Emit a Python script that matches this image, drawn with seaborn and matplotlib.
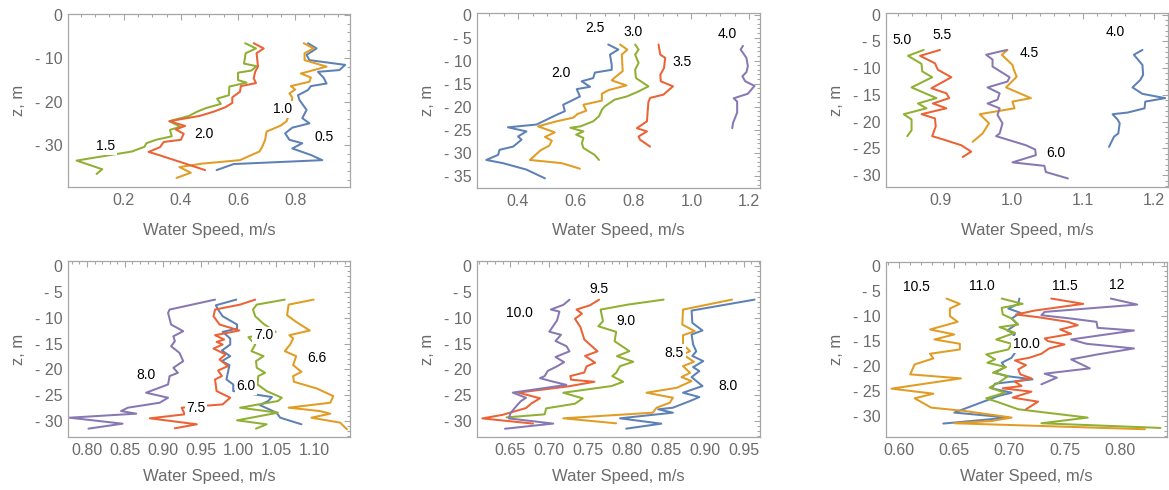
import matplotlib
matplotlib.use("Agg")
import matplotlib.pyplot as plt
from matplotlib.ticker import MultipleLocator, FixedLocator, FixedFormatter
import seaborn as sns

# ---------------- data: (speed m/s, depth z m) ----------------
# Panel 1
p1_blue_z = [-6.5,-7.7,-9.2,-10.4,-11.5,-12.7,-13.1,-14.5,-15.8,-16.4,-17.3,-18.5,-19.6,-21.9,-23.8,-25.0,-26.0,-27.3,-28.8,-29.6,-30.8,-32.3,-33.5,-34.4,-35.8]
p1_blue_s = [0.845,0.875,0.84,0.85,0.975,0.955,0.88,0.90,0.91,0.855,0.845,0.81,0.815,0.84,0.825,0.85,0.79,0.765,0.78,0.825,0.79,0.855,0.895,0.585,0.525]
p1_orange_z = [-6.5,-7.7,-8.8,-10.4,-11.9,-13.5,-14.4,-15.4,-16.4,-17.2,-18.1,-19.0,-22.0,-24.5,-25.5,-26.9,-28.8,-30.4,-31.5,-33.5,-34.3,-35.1,-36.4,-37.6]
p1_orange_s = [0.83,0.865,0.833,0.833,0.91,0.82,0.855,0.85,0.785,0.80,0.78,0.79,0.785,0.77,0.75,0.70,0.695,0.685,0.675,0.607,0.475,0.395,0.435,0.385]
p1_green_z = [-6.5,-7.7,-8.8,-11.2,-11.8,-12.8,-13.3,-15.0,-15.6,-16.5,-18.5,-19.3,-20.5,-21.5,-22.3,-23.3,-24.5,-25.8,-26.5,-28.0,-28.8,-29.6,-30.4,-31.5,-33.6,-35.6,-36.7]
p1_green_s = [0.625,0.663,0.627,0.621,0.665,0.647,0.600,0.600,0.630,0.570,0.568,0.527,0.540,0.487,0.457,0.428,0.360,0.398,0.362,0.368,0.313,0.279,0.273,0.229,0.035,0.125,0.105]
p1_red_z = [-6.5,-7.7,-8.8,-11.9,-13.1,-14.6,-15.7,-16.4,-17.7,-19.0,-20.3,-21.3,-22.3,-23.3,-24.5,-25.6,-26.4,-27.4,-28.8,-29.3,-30.5,-31.6,-32.4,-35.8]
p1_red_s = [0.655,0.69,0.665,0.67,0.66,0.655,0.663,0.61,0.607,0.58,0.58,0.555,0.515,0.465,0.36,0.415,0.382,0.41,0.40,0.34,0.327,0.287,0.327,0.485]

# Panel 2
p2_blue_z = [-6.5,-7.6,-8.7,-10.9,-12.0,-12.6,-13.8,-14.5,-15.7,-16.2,-17.8,-18.9,-19.6,-21.0,-21.8,-23.2,-23.9,-24.5,-25.4,-26.5,-27.2,-28.7,-29.4,-30.5,-31.6,-32.3,-33.7,-35.6]
p2_blue_s = [0.712,0.747,0.718,0.724,0.724,0.666,0.660,0.620,0.649,0.603,0.614,0.579,0.556,0.562,0.533,0.487,0.464,0.365,0.429,0.400,0.412,0.383,0.336,0.331,0.290,0.348,0.429,0.493]
p2_orange_z = [-6.5,-7.6,-8.7,-12.3,-13.6,-14.3,-15.4,-16.4,-17.2,-18.7,-19.6,-20.9,-21.6,-22.4,-23.2,-24.3,-25.6,-26.6,-27.4,-28.5,-29.5,-31.6,-32.3,-33.5]
p2_orange_s = [0.753,0.778,0.759,0.762,0.736,0.724,0.775,0.714,0.690,0.690,0.626,0.636,0.606,0.591,0.533,0.469,0.527,0.493,0.517,0.508,0.478,0.441,0.551,0.614]
p2_green_z = [-6.5,-7.6,-8.7,-10.5,-12.0,-13.8,-15.6,-16.7,-17.8,-18.5,-20.0,-20.7,-22.1,-23.2,-24.3,-24.6,-25.4,-26.1,-26.8,-28.0,-29.0,-30.5,-31.6]
p2_green_s = [0.805,0.817,0.805,0.817,0.805,0.808,0.851,0.817,0.776,0.734,0.699,0.690,0.680,0.660,0.616,0.581,0.626,0.601,0.626,0.621,0.626,0.665,0.680]
p2_red_z = [-6.5,-8.7,-9.4,-11.6,-13.1,-14.5,-15.6,-17.4,-18.1,-19.0,-21.4,-23.2,-24.7,-25.4,-26.5,-27.2,-28.7]
p2_red_s = [0.886,0.892,0.909,0.905,0.892,0.894,0.936,0.903,0.857,0.851,0.848,0.846,0.811,0.846,0.817,0.822,0.857]
p2_purple_z = [-6.8,-7.6,-9.4,-11.2,-12.5,-13.4,-14.5,-15.5,-17.2,-18.2,-18.9,-21.3,-23.5,-24.7]
p2_purple_s = [1.178,1.170,1.190,1.195,1.190,1.176,1.186,1.218,1.195,1.146,1.158,1.158,1.144,1.141]

# Panel 3
p3_blue_z = [-6.6,-7.5,-9.4,-11.25,-12.2,-13.6,-14.8,-15.6,-16.25,-17.5,-18.3,-18.6,-19.6,-20.3,-22.2,-22.8,-24.7]
p3_blue_s = [1.184,1.172,1.184,1.185,1.181,1.170,1.184,1.216,1.188,1.187,1.163,1.142,1.149,1.152,1.150,1.144,1.137]
p3_orange_z = [-6.6,-7.5,-9.4,-10.3,-11.6,-13.6,-15.6,-16.25,-17.5,-18.6,-20.3,-22.2,-23.75]
p3_orange_s = [0.994,0.986,1.001,1.003,1.007,0.992,1.027,1.001,1.004,0.955,0.968,0.959,0.945]
p3_green_z = [-6.6,-7.7,-9.2,-10.6,-11.7,-13.6,-15.6,-16.6,-17.5,-18.6,-19.6,-21.6,-22.7]
p3_green_s = [0.876,0.854,0.873,0.874,0.888,0.859,0.894,0.868,0.880,0.848,0.859,0.859,0.853]
p3_red_z = [-6.6,-7.7,-9.1,-10.3,-11.7,-13.75,-14.7,-15.6,-16.6,-17.5,-18.6,-19.4,-20.9,-22.7,-23.3,-24.4,-25.6,-26.6]
p3_red_s = [0.899,0.871,0.892,0.896,0.915,0.887,0.908,0.912,0.889,0.908,0.873,0.892,0.893,0.888,0.903,0.929,0.943,0.931]
p3_purple_z = [-6.6,-7.5,-8.4,-9.7,-11.7,-12.5,-13.6,-14.7,-15.9,-16.6,-17.5,-18.75,-20.3,-22.2,-22.7,-24.4,-25.2,-26.25,-27.6,-28.25,-29.4,-30.6]
p3_purple_s = [0.993,0.964,0.973,0.973,0.997,0.994,0.966,0.983,0.980,0.966,0.983,0.980,0.987,0.983,0.978,1.020,1.033,1.034,1.001,1.046,1.048,1.079]

# Panel 4
p4_blue_z = [-6.48,-7.58,-8.41,-9.71,-11.31,-12.09,-12.73,-14.02,-15.18,-16.34,-17.44,-18.40,-19.18,-21.95,-22.92,-24.20,-25.36,-26.13,-26.91,-28.39,-29.36,-30.64]
p4_blue_s = [0.997,0.970,0.973,0.979,0.998,0.998,0.979,0.989,0.989,0.978,0.989,0.978,0.988,0.984,0.993,0.993,1.044,1.039,1.028,1.050,1.055,1.083]
p4_orange_z = [-6.48,-7.45,-9.51,-10.80,-12.47,-13.38,-14.02,-15.18,-16.47,-17.44,-19.18,-20.47,-21.30,-22.40,-23.69,-25.17,-26.46,-27.42,-28.07,-28.58,-29.36,-30.32,-31.61]
p4_orange_s = [1.099,1.066,1.064,1.076,1.094,1.067,1.072,1.068,1.061,1.076,1.072,1.083,1.072,1.073,1.103,1.125,1.121,1.066,1.107,1.121,1.096,1.134,1.143]
p4_green_z = [-6.48,-7.45,-8.41,-9.71,-11.18,-12.73,-13.76,-15.18,-16.47,-17.44,-18.40,-19.69,-20.66,-21.30,-22.92,-24.20,-25.49,-26.13,-27.42,-28.39,-29.87,-30.64,-31.48]
p4_green_s = [1.061,1.024,1.019,1.022,1.033,1.049,1.013,1.022,1.017,1.033,1.023,1.024,1.035,1.026,1.025,1.037,1.057,1.052,1.002,1.052,0.998,1.037,1.023]
p4_red_z = [-6.48,-7.45,-8.41,-9.71,-11.31,-12.47,-13.38,-14.21,-14.67,-15.18,-15.96,-17.11,-18.08,-19.37,-20.21,-21.30,-21.95,-24.20,-25.49,-26.78,-27.42,-28.71,-29.48,-30.64,-31.41]
p4_red_s = [1.022,1.002,0.969,0.967,0.975,1.001,0.969,0.981,0.971,0.979,0.967,0.983,0.975,0.986,0.973,0.978,0.969,0.971,0.989,0.979,0.925,0.929,0.883,0.945,0.916]
p4_purple_z = [-6.48,-8.41,-9.06,-11.31,-12.60,-13.58,-14.54,-15.51,-16.80,-18.40,-19.69,-20.66,-21.30,-22.92,-24.52,-25.49,-26.46,-27.42,-28.07,-28.58,-29.36,-30.52,-31.48]
p4_purple_s = [0.969,0.909,0.907,0.911,0.927,0.914,0.916,0.911,0.922,0.927,0.914,0.920,0.909,0.907,0.878,0.907,0.896,0.854,0.845,0.865,0.777,0.847,0.802]

# Panel 5
p5_blue_z = [-6.48,-8.61,-10.99,-12.47,-13.25,-15.18,-16.5,-17.4,-18.40,-19.56,-20.33,-21.49,-23.23,-24.52,-25.36,-26.13,-27.42,-27.74,-28.39,-29.48,-30.52,-31.48]
p5_blue_s = [0.964,0.883,0.884,0.897,0.883,0.885,0.889,0.884,0.898,0.885,0.893,0.883,0.897,0.872,0.893,0.881,0.859,0.840,0.859,0.791,0.844,0.799]
p5_orange_z = [-6.48,-8.41,-11.31,-12.60,-13.38,-15.18,-16.47,-17.11,-18.53,-19.37,-20.66,-21.49,-22.27,-23.56,-24.52,-25.49,-26.46,-27.42,-28.39,-29.48,-30.45]
p5_orange_s = [0.935,0.872,0.871,0.887,0.872,0.872,0.881,0.872,0.886,0.872,0.881,0.870,0.883,0.864,0.825,0.859,0.855,0.838,0.833,0.718,0.786]
p5_green_z = [-6.48,-7.45,-8.41,-10.67,-11.64,-12.73,-14.54,-16.47,-17.44,-18.53,-19.37,-20.66,-21.30,-22.40,-23.23,-24.52,-25.62,-26.65,-27.55,-28.71,-29.3]
p5_green_s = [0.847,0.801,0.766,0.769,0.763,0.786,0.784,0.803,0.787,0.808,0.791,0.786,0.781,0.795,0.780,0.718,0.743,0.733,0.696,0.694,0.645]
p5_red_z = [-6.5,-7.6,-8.4,-9.2,-10.2,-11.8,-14.2,-16.5,-17.4,-18.7,-19.4,-20.6,-21.3,-22.0,-22.4,-23.3,-24.5,-25.6,-26.6,-27.5,-28.8,-29.5,-30.5]
p5_red_s = [0.764,0.752,0.735,0.742,0.733,0.740,0.745,0.762,0.746,0.759,0.748,0.745,0.727,0.728,0.758,0.724,0.660,0.688,0.677,0.670,0.640,0.614,0.679]
p5_purple_z = [-6.5,-7.5,-8.4,-8.8,-10.5,-12.7,-13.3,-14.5,-15.5,-16.5,-17.6,-18.6,-19.4,-20.3,-21.3,-21.7,-22.3,-23.0,-24.5,-25.5,-26.2,-27.4,-28.5,-29.5,-30.5,-31.5]
p5_purple_s = [0.726,0.718,0.702,0.713,0.710,0.700,0.715,0.708,0.722,0.726,0.708,0.719,0.710,0.698,0.694,0.688,0.703,0.722,0.653,0.670,0.663,0.656,0.650,0.648,0.705,0.643]

# Panel 6
p6_blue_z = [-6.59,-7.65,-8.58,-9.44,-10.57,-11.63,-12.96,-13.63,-14.55,-15.48,-16.54,-17.41,-18.40,-19.39,-20.25,-21.38,-22.04,-22.70,-23.56,-24.49,-25.36,-26.02,-27.02,-29.33,-30.33,-31.52]
p6_blue_s = [0.709,0.708,0.699,0.710,0.702,0.707,0.698,0.705,0.702,0.709,0.703,0.705,0.702,0.693,0.696,0.687,0.697,0.721,0.687,0.684,0.702,0.690,0.678,0.650,0.699,0.640]
p6_orange_z = [-6.6,-7.65,-8.58,-10.11,-11.23,-12.76,-13.75,-14.75,-15.61,-16.74,-17.60,-18.53,-19.72,-21.71,-22.51,-24.56,-25.56,-26.48,-28.34,-29.0,-30.33,-31.0,-31.46,-32.65]
p6_orange_s = [0.643,0.655,0.646,0.646,0.653,0.628,0.650,0.632,0.655,0.655,0.628,0.631,0.614,0.610,0.656,0.593,0.631,0.614,0.629,0.659,0.702,0.684,0.650,0.823]
p6_green_z = [-6.59,-7.65,-8.44,-9.77,-10.57,-11.77,-12.29,-13.42,-14.75,-15.61,-16.74,-17.73,-18.72,-19.39,-20.25,-21.38,-22.04,-23.37,-24.36,-25.36,-26.48,-27.35,-28.67,-30.33,-31.46,-32.39]
p6_green_s = [0.693,0.712,0.693,0.694,0.702,0.708,0.691,0.705,0.688,0.702,0.699,0.679,0.687,0.680,0.697,0.685,0.699,0.690,0.682,0.696,0.679,0.691,0.708,0.771,0.729,0.837]
p6_red_z = [-6.59,-7.65,-8.98,-9.77,-10.30,-11.23,-11.90,-12.76,-13.63,-14.55,-15.08,-15.74,-16.54,-17.60,-18.40,-18.93,-19.86,-20.72,-21.71,-22.51,-23.17,-24.03,-24.49,-25.16,-26.35,-27.15,-28.68]
p6_red_s = [0.738,0.767,0.723,0.706,0.726,0.753,0.762,0.746,0.756,0.732,0.735,0.750,0.736,0.729,0.718,0.705,0.715,0.708,0.710,0.720,0.705,0.711,0.694,0.720,0.703,0.726,0.715]
p6_purple_z = [-6.59,-7.79,-9.25,-9.91,-10.58,-11.23,-12.43,-12.96,-14.75,-15.61,-16.54,-17.73,-18.72,-20.51,-21.57,-22.37,-23.70]
p6_purple_s = [0.792,0.816,0.732,0.729,0.756,0.779,0.780,0.813,0.756,0.770,0.813,0.780,0.756,0.773,0.732,0.743,0.729]

# curve labels (text, speed, depth)
p1_labels = [("1.5", 0.136, -30.2), ("2.0", 0.481, -27.5), ("1.0", 0.757, -21.8), ("0.5", 0.903, -28.1)]
p2_labels = [("2.5", 0.666, -2.9), ("3.0", 0.799, -3.8), ("2.0", 0.550, -12.8), ("3.5", 0.967, -10.2), ("4.0", 1.123, -4.2)]
p3_labels = [("5.0", 0.845, -4.7), ("5.5", 0.902, -3.75), ("4.5", 1.025, -7.2), ("6.0", 1.062, -25.9), ("4.0", 1.146, -3.25)]
p4_labels = [("8.0", 0.878, -21.0), ("7.0", 1.033, -13.4), ("6.6", 1.103, -17.8), ("6.0", 1.010, -23.2), ("7.5", 0.944, -27.5)]
p5_labels = [("9.5", 0.764, -4.5), ("10.0", 0.662, -9.1), ("9.0", 0.799, -10.7), ("8.5", 0.861, -16.8), ("8.0", 0.930, -23.2)]
p6_labels = [("10.5", 0.616, -4.3), ("11.0", 0.675, -4.1), ("11.5", 0.750, -4.1), ("12", 0.797, -3.9), ("10.0", 0.715, -15.7)]

# ---------------- styling ----------------
sns.set_style("white")
plt.rcParams['font.family'] = ['Liberation Sans', 'DejaVu Sans']

BLUE, ORANGE, GREEN, RED, PURPLE = "#5E81B5", "#E19C24", "#8FB032", "#EB6235", "#8778B3"
FRAME = "#a6a6a6"
TXT = "#6b6b6b"

panels = [
    dict(rect=(68, 14, 350, 187), xlim=(0.005, 0.992), ylim=(-39.7, 0.25),
         xmaj=[0.2, 0.4, 0.6, 0.8], xmin=0.05, xfmt="{:.1f}", ymaj=[0, -10, -20, -30], ymin=2,
         lines=[(p1_blue_s, p1_blue_z, BLUE), (p1_orange_s, p1_orange_z, ORANGE),
                (p1_green_s, p1_green_z, GREEN), (p1_red_s, p1_red_z, RED)],
         labels=p1_labels, xl=-0.25),
    dict(rect=(477, 13, 760, 188), xlim=(0.258, 1.237), ylim=(-37.7, 0.35),
         xmaj=[0.4, 0.6, 0.8, 1.0, 1.2], xmin=0.05, xfmt="{:.1f}", ymaj=[0, -5, -10, -15, -20, -25, -30, -35], ymin=1,
         lines=[(p2_blue_s, p2_blue_z, BLUE), (p2_orange_s, p2_orange_z, ORANGE),
                (p2_green_s, p2_green_z, GREEN), (p2_red_s, p2_red_z, RED), (p2_purple_s, p2_purple_z, PURPLE)],
         labels=p2_labels, xl=-0.245),
    dict(rect=(886, 13, 1168, 187), xlim=(0.823, 1.22), ylim=(-32.2, 0.3),
         xmaj=[0.9, 1.0, 1.1, 1.2], xmin=0.02, xfmt="{:.1f}", ymaj=[0, -5, -10, -15, -20, -25, -30], ymin=1,
         lines=[(p3_blue_s, p3_blue_z, BLUE), (p3_orange_s, p3_orange_z, ORANGE),
                (p3_green_s, p3_green_z, GREEN), (p3_red_s, p3_red_z, RED), (p3_purple_s, p3_purple_z, PURPLE)],
         labels=p3_labels, xl=-0.25),
    dict(rect=(68, 261, 350, 437), xlim=(0.775, 1.147), ylim=(-33.1, 1.0),
         xmaj=[0.80, 0.85, 0.90, 0.95, 1.00, 1.05, 1.10], xmin=0.01, xfmt="{:.2f}", ymaj=[0, -5, -10, -15, -20, -25, -30], ymin=1,
         lines=[(p4_blue_s, p4_blue_z, BLUE), (p4_orange_s, p4_orange_z, ORANGE),
                (p4_green_s, p4_green_z, GREEN), (p4_red_s, p4_red_z, RED), (p4_purple_s, p4_purple_z, PURPLE)],
         labels=p4_labels, xl=-0.227),
    dict(rect=(477, 261, 760, 437), xlim=(0.607, 0.971), ylim=(-33.1, 1.0),
         xmaj=[0.65, 0.70, 0.75, 0.80, 0.85, 0.90, 0.95], xmin=0.01, xfmt="{:.2f}", ymaj=[0, -5, -10, -15, -20, -25, -30], ymin=1,
         lines=[(p5_blue_s, p5_blue_z, BLUE), (p5_orange_s, p5_orange_z, ORANGE),
                (p5_green_s, p5_green_z, GREEN), (p5_red_s, p5_red_z, RED), (p5_purple_s, p5_purple_z, PURPLE)],
         labels=p5_labels, xl=-0.227),
    dict(rect=(886, 262, 1167, 437), xlim=(0.588, 0.843), ylim=(-34.2, 0.7),
         xmaj=[0.60, 0.65, 0.70, 0.75, 0.80], xmin=0.01, xfmt="{:.2f}", ymaj=[0, -5, -10, -15, -20, -25, -30], ymin=1,
         lines=[(p6_blue_s, p6_blue_z, BLUE), (p6_orange_s, p6_orange_z, ORANGE),
                (p6_green_s, p6_green_z, GREEN), (p6_red_s, p6_red_z, RED), (p6_purple_s, p6_purple_z, PURPLE)],
         labels=p6_labels, xl=-0.227),
]

W, H = 1169, 490
fig = plt.figure(figsize=(W / 100, H / 100), dpi=100)

for p in panels:
    l, t, r, b = p["rect"]
    ax = fig.add_axes([l / W, 1 - b / H, (r - l) / W, (b - t) / H])
    for s, z, c in p["lines"]:
        sns.lineplot(x=s, y=z, sort=False, estimator=None, color=c, linewidth=1.45, ax=ax)
    for txt, x, y in p["labels"]:
        ax.text(x, y, txt, fontsize=10, color="black", ha="center", va="center", zorder=6,
                bbox=dict(boxstyle="square,pad=0.12", fc="white", ec="none"))
    ax.set_xlim(*p["xlim"])
    ax.set_ylim(*p["ylim"])
    ax.xaxis.set_major_locator(FixedLocator(p["xmaj"]))
    ax.xaxis.set_major_formatter(FixedFormatter([p["xfmt"].format(v) for v in p["xmaj"]]))
    ax.xaxis.set_minor_locator(MultipleLocator(p["xmin"]))
    ax.yaxis.set_major_locator(FixedLocator(p["ymaj"]))
    ax.yaxis.set_major_formatter(FixedFormatter(["0" if v == 0 else f"- {abs(v)}" for v in p["ymaj"]]))
    ax.yaxis.set_minor_locator(MultipleLocator(p["ymin"]))
    ax.tick_params(which="both", direction="in", top=True, right=True, color=FRAME, width=0.8)
    ax.tick_params(which="major", length=4, labelsize=11.5, labelcolor=TXT, pad=4)
    ax.tick_params(which="minor", length=2)
    for sp in ax.spines.values():
        sp.set_color(FRAME)
        sp.set_linewidth(0.9)
    ax.set_xlabel("Water Speed, m/s", fontsize=12, color=TXT)
    ax.set_ylabel("z, m", fontsize=12, color=TXT)
    ax.xaxis.set_label_coords(0.5, p["xl"])
    ax.xaxis.label.set_va("center")
    ax.yaxis.set_label_coords(-0.175, 0.5)
    ax.yaxis.label.set_va("center")
    ax.grid(False)

fig.savefig("out.png", dpi=100, facecolor="white")
